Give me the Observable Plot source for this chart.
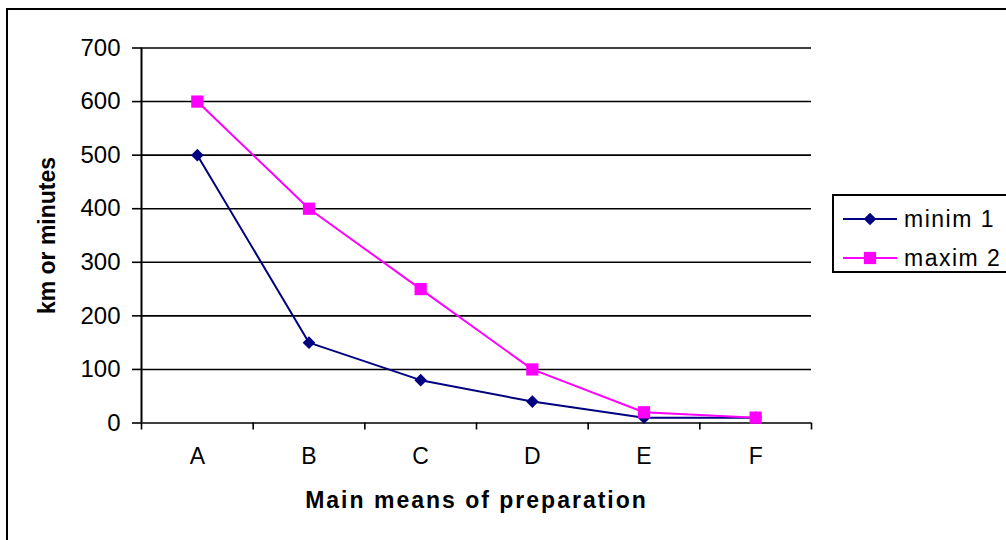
<!DOCTYPE html>
<html>
<head>
<meta charset="utf-8">
<script src="https://cdn.jsdelivr.net/npm/d3@7"></script>
<script src="https://cdn.jsdelivr.net/npm/@observablehq/plot@0.6"></script>
<style>
  html, body { margin: 0; padding: 0; background: #fff; overflow: hidden; }
  #wrap { position: relative; width: 1006px; height: 540px; font-family: "Liberation Sans", Arial, sans-serif; }
  #frame { position: absolute; left: 6px; top: 8px; width: 1020px; height: 560px; border: 2.5px solid #000; box-sizing: border-box; pointer-events: none; }
  #legend { position: absolute; left: 832px; top: 194px; width: 200px; height: 79px; border: 2px solid #000; box-sizing: border-box; background: #fff; }
  .row { position: absolute; left: 0; height: 30px; display: flex; align-items: center; }
  .row span { font-size: 23px; letter-spacing: 1.5px; color: #000; margin-left: 4px; }
  #chart svg { display: block; }
</style>
</head>
<body>
<div id="wrap">
  <div id="chart"></div>
  <div id="frame"></div>
  <div id="legend"></div>
</div>
<script>
const categories = ["A", "B", "C", "D", "E", "F"];
const minim = [500, 150, 80, 40, 10, 10];
const maxim = [600, 400, 250, 100, 20, 10];
const yTicks = [0, 100, 200, 300, 400, 500, 600, 700];
const seriesNames = ["minim 1", "maxim 2"];
const seriesColors = ["#000080", "#ff00ff"];
const seriesSymbols = ["diamond2", "square"];
const xTitle = "Main means of preparation";
const yTitle = "km or minutes";

const mid = (d, i) => i + 0.5;
const boundaries = d3.range(categories.length + 1);

const chart = Plot.plot({
  width: 1006,
  height: 540,
  marginLeft: 141,
  marginRight: 195,
  marginTop: 47.5,
  marginBottom: 117.5,
  style: { fontFamily: "Liberation Sans, Arial, sans-serif", background: "transparent", color: "#000" },
  x: { type: "linear", domain: [0, categories.length], axis: null },
  y: { domain: [0, 700], axis: null },
  marks: [
    Plot.gridY(yTicks, { stroke: "#000", strokeOpacity: 1, strokeWidth: 1.6 }),
    Plot.axisY(yTicks, { tickSize: 9, tickPadding: 12, stroke: "#000", strokeWidth: 1.6, fontSize: 24, tickFormat: d => String(d), label: null }),
    Plot.ruleX([0], { stroke: "#000", strokeWidth: 2 }),
    Plot.axisX(boundaries, { tickSize: 7, tickFormat: () => "", stroke: "#000", strokeWidth: 1.6, label: null }),
    Plot.text(categories, { x: mid, y: 0, text: d => d, dy: 34, lineAnchor: "middle", fontSize: 23, fill: "#000" }),
    Plot.text([xTitle], { frameAnchor: "bottom", textAnchor: "middle", dy: 78, lineAnchor: "middle", text: d => d, fontSize: 23, fontWeight: "bold", fill: "#000" }),
    Plot.text([yTitle], { frameAnchor: "left", textAnchor: "middle", dx: -94, rotate: -90, lineAnchor: "middle", text: d => d, fontSize: 23, fontWeight: "bold", fill: "#000" }),
    Plot.line(minim, { x: mid, y: d => d, stroke: seriesColors[0], strokeWidth: 2 }),
    Plot.dot(minim, { x: mid, y: d => d, symbol: seriesSymbols[0], r: 5.7, fill: seriesColors[0], stroke: "none" }),
    Plot.line(maxim, { x: mid, y: d => d, stroke: seriesColors[1], strokeWidth: 2 }),
    Plot.dot(maxim, { x: mid, y: d => d, symbol: seriesSymbols[1], r: 6.9, fill: seriesColors[1], stroke: "none" })
  ]
});
d3.select(chart).selectAll("text").filter(function () { return this.textContent === xTitle; })
  .style("letter-spacing", "2px");
document.getElementById("chart").appendChild(chart);

// Legend
const legend = document.getElementById("legend");
const rowTops = [8, 47];
seriesNames.forEach((name, i) => {
  const row = document.createElement("div");
  row.className = "row";
  row.style.top = rowTops[i] + "px";
  const s = d3.create("svg").attr("width", 66).attr("height", 30);
  s.append("line").attr("x1", 9).attr("x2", 63).attr("y1", 15).attr("y2", 15)
    .attr("stroke", seriesColors[i]).attr("stroke-width", 2);
  const sym = d3.symbol(i === 0 ? d3.symbolDiamond2 : d3.symbolSquare, i === 0 ? 5.7 * 5.7 * Math.PI : 6.9 * 6.9 * Math.PI);
  s.append("path").attr("d", sym()).attr("transform", "translate(36,15)").attr("fill", seriesColors[i]);
  row.appendChild(s.node());
  const t = document.createElement("span");
  t.textContent = name;
  row.appendChild(t);
  legend.appendChild(row);
});
</script>
</body>
</html>
